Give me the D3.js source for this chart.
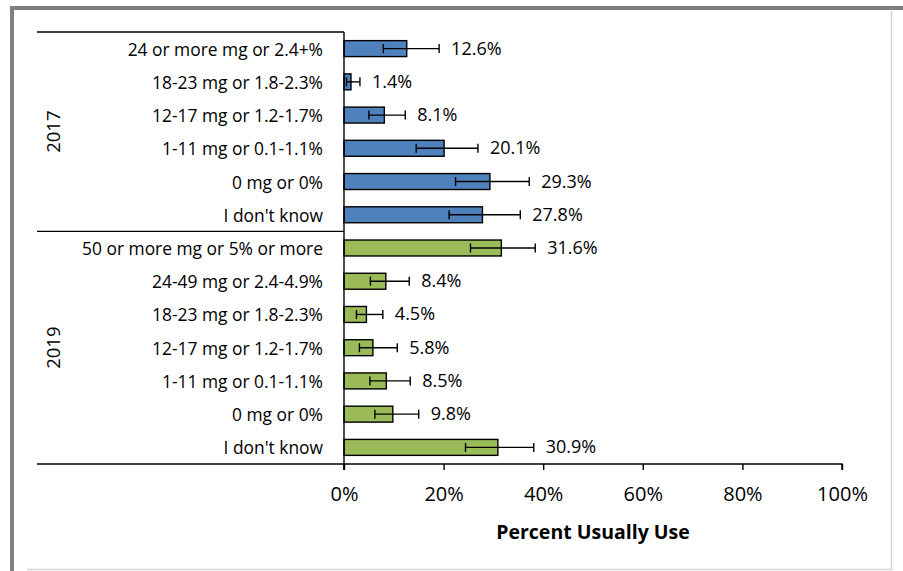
<!DOCTYPE html>
<html>
<head>
<meta charset="utf-8">
<script src="https://cdn.jsdelivr.net/npm/d3@7"></script>
<style>
  html, body { margin: 0; padding: 0; background: #fff; }
  svg { display: block; }
  text { font-family: "Open Sans", "Noto Sans", sans-serif; fill: #000; }
</style>
</head>
<body>
<svg id="chart" width="903" height="571"></svg>
<script>
// ---- data ----
const years = ["2017", "2019"];
const labels2017 = ["24 or more mg or 2.4+%", "18-23 mg or 1.8-2.3%", "12-17 mg or 1.2-1.7%", "1-11 mg or 0.1-1.1%", "0 mg or 0%", "I don't know"];
const values2017 = [12.6, 1.4, 8.1, 20.1, 29.3, 27.8];
const low2017 = [7.9, 0.5, 5.0, 14.5, 22.4, 21.1];
const high2017 = [19.1, 3.2, 12.3, 26.9, 37.2, 35.4];
const labels2019 = ["50 or more mg or 5% or more", "24-49 mg or 2.4-4.9%", "18-23 mg or 1.8-2.3%", "12-17 mg or 1.2-1.7%", "1-11 mg or 0.1-1.1%", "0 mg or 0%", "I don't know"];
const values2019 = [31.6, 8.4, 4.5, 5.8, 8.5, 9.8, 30.9];
const low2019 = [25.4, 5.3, 2.5, 3.1, 5.2, 6.2, 24.4];
const high2019 = [38.4, 13.1, 7.8, 10.7, 13.3, 15.0, 38.1];
const xTicks = [0, 20, 40, 60, 80, 100];
const xTitle = "Percent Usually Use";
const colors = { "2017": "#4F81BD", "2019": "#9BBB59" };

const rows = [];
labels2017.forEach((l, i) => rows.push({ year: "2017", label: l, value: values2017[i], low: low2017[i], high: high2017[i] }));
labels2019.forEach((l, i) => rows.push({ year: "2019", label: l, value: values2019[i], low: low2019[i], high: high2019[i] }));
rows.forEach((r, i) => r.key = r.year + "|" + i);

// ---- layout ----
const svg = d3.select("#chart");
const plotL = 344, plotR = 842, plotT = 32, plotB = 464;
const labelLeft = 37;

const x = d3.scaleLinear().domain([0, 100]).range([plotL, plotR]);
const y = d3.scaleBand().domain(rows.map(r => r.key)).range([plotT, plotB]).paddingInner(0.52).paddingOuter(0.26);
const step = y.step();

// frame
svg.append("rect").attr("x", 10).attr("y", 6).attr("width", 893).attr("height", 4).attr("fill", "#7f7f7f");
svg.append("rect").attr("x", 10).attr("y", 6).attr("width", 4).attr("height", 565).attr("fill", "#7f7f7f");
svg.append("line").attr("x1", 891.5).attr("x2", 891.5).attr("y1", 11).attr("y2", 570).attr("stroke", "#d4d4d4").attr("stroke-width", 1.5);
svg.append("line").attr("x1", 27).attr("x2", 892).attr("y1", 569.5).attr("y2", 569.5).attr("stroke", "#d4d4d4").attr("stroke-width", 1.5);

// bars
const g = svg.append("g");
g.selectAll("rect.bar").data(rows).enter().append("rect")
  .attr("class", "bar")
  .attr("x", x(0))
  .attr("y", d => y(d.key))
  .attr("width", d => x(d.value) - x(0))
  .attr("height", y.bandwidth())
  .attr("fill", d => colors[d.year])
  .attr("stroke", "#000")
  .attr("stroke-width", 1.4);

// error bars
const capH = 9;
const eb = g.selectAll("g.eb").data(rows).enter().append("g").attr("class", "eb")
  .attr("transform", d => `translate(0,${y(d.key) + y.bandwidth() / 2})`);
eb.append("line").attr("x1", d => x(d.low)).attr("x2", d => x(d.high)).attr("y1", 0).attr("y2", 0)
  .attr("stroke", "#000").attr("stroke-width", 1.4);
eb.append("line").attr("x1", d => x(d.low)).attr("x2", d => x(d.low)).attr("y1", -capH / 2).attr("y2", capH / 2)
  .attr("stroke", "#000").attr("stroke-width", 1.4);
eb.append("line").attr("x1", d => x(d.high)).attr("x2", d => x(d.high)).attr("y1", -capH / 2).attr("y2", capH / 2)
  .attr("stroke", "#000").attr("stroke-width", 1.4);

// data labels
g.selectAll("text.dl").data(rows).enter().append("text")
  .attr("class", "dl")
  .attr("x", d => x(d.high) + 12)
  .attr("y", d => y(d.key) + y.bandwidth() / 2 - 1)
  .attr("dominant-baseline", "central")
  .attr("font-size", 18)
  .text(d => d.value.toFixed(1) + "%");

// x axis
const xAxis = d3.axisBottom(x).tickValues(xTicks).tickSize(6).tickPadding(17).tickFormat(d => d + "%");
const ax = svg.append("g").attr("transform", `translate(0,${plotB})`).call(xAxis);
ax.select(".domain").attr("stroke", "#000").attr("stroke-width", 1.4).attr("d", `M${plotL},6V0H${plotR}V6`);
ax.selectAll(".tick line").attr("stroke", "#000").attr("stroke-width", 1.4);
ax.selectAll(".tick text").attr("font-size", 20).attr("font-family", '"Open Sans", sans-serif').attr("fill", "#000");

// x title
svg.append("text").attr("x", (plotL + plotR) / 2).attr("y", 531).attr("text-anchor", "middle")
  .attr("dominant-baseline", "central").attr("font-size", 19.5).attr("font-weight", "bold").text(xTitle);

// category axis: vertical line & separators
svg.append("line").attr("x1", plotL).attr("x2", plotL).attr("y1", plotT).attr("y2", plotB + 6)
  .attr("stroke", "#000").attr("stroke-width", 1.4);
const groupBounds = [plotT, plotT + step * labels2017.length, plotB];
svg.selectAll("line.sep").data(groupBounds).enter().append("line").attr("class", "sep")
  .attr("x1", labelLeft).attr("x2", plotL).attr("y1", d => d).attr("y2", d => d)
  .attr("stroke", "#000").attr("stroke-width", 1.4);

// category labels
svg.selectAll("text.cl").data(rows).enter().append("text")
  .attr("class", "cl")
  .attr("x", 323)
  .attr("y", d => y(d.key) + y.bandwidth() / 2)
  .attr("text-anchor", "end")
  .attr("dominant-baseline", "central")
  .attr("font-size", 17.4)
  .text(d => d.label);

// year labels
const yearCenters = [(groupBounds[0] + groupBounds[1]) / 2, (groupBounds[1] + groupBounds[2]) / 2];
svg.selectAll("text.yr").data(years).enter().append("text")
  .attr("class", "yr")
  .attr("transform", (d, i) => `translate(52,${yearCenters[i]}) rotate(-90)`)
  .attr("text-anchor", "middle")
  .attr("dominant-baseline", "central")
  .attr("font-size", 18.5)
  .text(d => d);
</script>
</body>
</html>
